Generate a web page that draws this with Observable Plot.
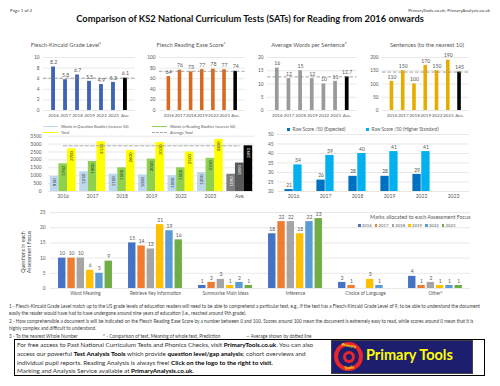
<!DOCTYPE html>
<html><head><meta charset="utf-8">
<script src="https://cdn.jsdelivr.net/npm/d3@7"></script>
<script src="https://cdn.jsdelivr.net/npm/@observablehq/plot@0.6"></script>
<style>
body{margin:0;width:500px;height:386px;position:relative;overflow:hidden;background:#fff;font-family:Lato,"Open Sans",sans-serif;}
.a{position:absolute;white-space:nowrap;}
.chart{position:absolute;left:0;}
.chart svg{overflow:visible;background:transparent;}
.ct{position:absolute;font-size:5.8px;color:#595959;transform:translateX(-50%);white-space:nowrap;}
.leg{position:absolute;white-space:nowrap;color:#595959;}
.sw{display:inline-block;vertical-align:middle;}
.fn{position:absolute;left:9px;font-size:4.7px;color:#404040;white-space:nowrap;}
.foot{position:absolute;left:17px;font-size:6.3px;color:#333;white-space:nowrap;}
.foot b{color:#000;}
</style></head><body>
<script>
// ---------- data ----------
const years = ["2016","2017","2018","2019","2022","2023"];
const cats7 = ["2016","2017","2018","2019","2022","2023","Ave."];
const fkGrade = [8.2,5.8,6.7,5.5,4.9,5.3,6.1];
const readingEase = [64,76,73,77,78,77,74];
const wordsPerSentence = [16,12,15,12,10,11,12.7];
const sentences = [110,150,100,170,150,190,145];

const questionWords = [950,1250,1100,1050,1000,1200,1092];
const readingWords = [1750,1900,1500,2050,1500,2100,1800];
const totalWords = [2700,3150,2600,3100,2500,3300,2892];
const averageTotal = 2892;

const rawExpected = [21,26,28,28,29,null];
const rawHigher = [34,39,40,41,41,null];

const focusCats = ["Word Meaning","Retrieve Key Information","Summarise Main Ideas","Inference","Choice of Language","Other*"];
const focus2016 = [10,15,1,18,2,4];
const focus2017 = [10,14,2,22,1,1];
const focus2018 = [10,13,3,22,null,2];
const focus2019 = [6,21,1,18,3,1];
const focus2022 = [5,19,2,22,1,1];
const focus2023 = [9,16,1,23,null,1];
const focusYears = ["2016","2017","2018","2019","2022","2023"];

// ---------- helpers ----------
const body = document.body;
function place(el, top){ const d=document.createElement("div"); d.className="chart"; d.style.top=top+"px"; d.appendChild(el); body.appendChild(d); }
function html(s){ body.insertAdjacentHTML("beforeend", s); }
const baseStyle = {fontFamily:"Lato, sans-serif", fontSize:"5px", color:"#595959", background:"transparent", overflow:"visible"};
const plain = d => String(d);

// ---------- header ----------
html(`<div class="a" style="left:10px;top:8px;font-size:4.5px;color:#404040">Page 1 of 2</div>`);
html(`<div class="a" style="right:10px;top:8px;font-size:4.5px;color:#404040">PrimaryTools.co.uk; PrimaryAnalysis.co.uk</div>`);
html(`<div class="a" style="left:250px;top:13px;transform:translateX(-50%);font-size:9.3px;font-weight:bold;color:#111">Comparison of KS2 National Curriculum Tests (SATs) for Reading from 2016 onwards</div>`);

// ---------- four small charts ----------
function small(values, color, domain, ticks, pl, pr, title, tx){
  const data = cats7.map((c,i)=>({c, v:values[i]}));
  const p = Plot.plot({
    width:500, height:82, marginLeft:pl, marginRight:500-pr, marginTop:19, marginBottom:10,
    style: baseStyle,
    x:{domain:cats7, padding:0.68, round:false, label:null},
    y:{domain, label:null},
    marks:[
      Plot.gridY(ticks, {stroke:"#d9d9d9", strokeOpacity:1, strokeWidth:0.6}),
      Plot.barY(data, {x:"c", y:"v", fill:d=>d.c==="Ave."?"#000000":color}),
      Plot.ruleY([values[6]], {stroke:"#8c8c8c", strokeDasharray:"3.5,2", strokeWidth:0.8}),
      Plot.text(data, {x:"c", y:"v", text:d=>String(d.v), dy:-4.5, fill:"#595959", fontSize:5.2}),
      Plot.axisY(ticks, {tickSize:0, tickPadding:4, label:null, fontSize:4.8, tickFormat:plain}),
      Plot.axisX({tickSize:0, tickPadding:3, label:null, fontSize:4.6})
    ]
  });
  place(p, 38);
  html(`<div class="ct" style="left:${tx}px;top:41px">${title}</div>`);
}
small(fkGrade, "#3e64b4", [0,10], [0,2,4,6,8,10], 43, 135, "Flesch-Kincaid Grade Level¹", 66);
small(readingEase, "#d8691f", [0,100], [0,20,40,60,80,100], 159, 244.5, "Flesch Reading Ease Score²", 191);
small(wordsPerSentence, "#9a9a9a", [0,20], [0,5,10,15,20], 267, 356.5, "Average Words per Sentence³", 309);
small(sentences, "#e6ad00", [0,200], [0,50,100,150,200], 382, 468.5, "Sentences (to the nearest 10)", 427);

// ---------- words chart ----------
{
  const pl = 48, pr = 254;
  const bw = (pr-pl)/cats7.length, bW = 8.6, g0 = (bw - 3*bW)/2;
  const series = [
    [questionWords, "#bdd7ee", "#7f7f7f"],
    [readingWords, "#8fd14f", "#595959"],
    [totalWords, "#ffff00", "#000000"]
  ];
  const marks = [Plot.gridY(d3.range(0,3501,500), {stroke:"#d9d9d9", strokeOpacity:1, strokeWidth:0.6})];
  series.forEach(([vals, col, aveCol], j)=>{
    const d = cats7.map((c,i)=>({c, v:vals[i]}));
    const il = g0 + j*bW, ir = bw - il - bW;
    marks.push(Plot.barY(d, {x:"c", y:"v", fill:r=>r.c==="Ave."?aveCol:col, insetLeft:il, insetRight:ir}));
    marks.push(Plot.text(d, {x:"c", y:"v", text:r=>String(r.v), rotate:-90, textAnchor:"end", dy:2, dx:il + bW/2 - bw/2, fill:r=>r.c==="Ave."?"#ffffff":"#262626", fontSize:4.4}));
  });
  marks.push(Plot.line(cats7.map(c=>({c, v:averageTotal})), {x:"c", y:"v", stroke:"#a6a6a6", strokeDasharray:"3.5,2", strokeWidth:0.9}));
  marks.push(Plot.axisY(d3.range(0,3501,500), {tickSize:0, tickPadding:7, label:null, fontSize:4.8, tickFormat:plain}));
  marks.push(Plot.axisX({tickSize:0, tickPadding:3, label:null, fontSize:5}));
  const p = Plot.plot({
    width:500, height:82, marginLeft:pl, marginRight:500-pr, marginTop:17.7, marginBottom:9,
    style: baseStyle,
    x:{domain:cats7, padding:0, round:false, label:null},
    y:{domain:[0,3500], label:null},
    marks
  });
  place(p, 118);
  html(`<div class="leg" style="left:43px;top:123.5px;font-size:3.9px"><span class="sw" style="width:15px;height:1.6px;background:#bdd7ee;margin-right:3px"></span>Words in Question Booklet (nearest 50)</div>`);
  html(`<div class="leg" style="left:152px;top:123.5px;font-size:3.9px"><span class="sw" style="width:15px;height:1.6px;background:#8fd14f;margin-right:3px"></span>Words in Reading Booklet (nearest 50)</div>`);
  html(`<div class="leg" style="left:43px;top:129.5px;font-size:3.9px"><span class="sw" style="width:15px;height:1.6px;background:#ffff00;margin-right:3px"></span>Total</div>`);
  html(`<div class="leg" style="left:152px;top:129.5px;font-size:3.9px"><span class="sw" style="width:15px;height:0;border-top:1px dashed #a6a6a6;margin-right:3px"></span>Average Total</div>`);
}

// ---------- raw score chart ----------
{
  const pl = 277, pr = 469;
  const bw = (pr-pl)/years.length, bW = 8.3;
  const series = [[rawExpected, "#0070c0", -1], [rawHigher, "#00b0f0", 0]];
  const marks = [Plot.gridY(d3.range(20,51,5), {stroke:"#d9d9d9", strokeOpacity:1, strokeWidth:0.6})];
  series.forEach(([vals, col, k])=>{
    const d = years.map((c,i)=>({c, v:vals[i]})).filter(r=>r.v!=null);
    const il = bw/2 + k*bW + (k===0?0.3:-0.3), ir = bw - il - bW;
    marks.push(Plot.barY(d, {x:"c", y1:20, y2:"v", fill:col, insetLeft:il, insetRight:ir}));
    marks.push(Plot.text(d, {x:"c", y:"v", text:r=>String(r.v), dy:-4.5, dx:il + bW/2 - bw/2, fill:"#595959", fontSize:5}));
  });
  marks.push(Plot.axisY(d3.range(20,51,5), {tickSize:0, tickPadding:4, label:null, fontSize:4.8, tickFormat:plain}));
  marks.push(Plot.axisX({tickSize:0, tickPadding:3, label:null, fontSize:5}));
  const p = Plot.plot({
    width:500, height:82, marginLeft:pl, marginRight:500-pr, marginTop:16, marginBottom:9,
    style: baseStyle,
    x:{domain:years, padding:0, round:false, label:null},
    y:{domain:[20,50], label:null},
    marks
  });
  place(p, 118);
  html(`<div class="leg" style="left:287px;top:126px;font-size:4.7px"><span class="sw" style="width:3px;height:3px;background:#0070c0;margin-right:2.5px"></span>Raw Score /50 (Expected)</div>`);
  html(`<div class="leg" style="left:366px;top:126px;font-size:4.7px"><span class="sw" style="width:3px;height:3px;background:#00b0f0;margin-right:2.5px"></span>Raw Score /50 (Higher Standard)</div>`);
}

// ---------- assessment focus chart ----------
{
  const pl = 50, pr = 470;
  const bw = (pr-pl)/focusCats.length, bW = 7.4, bS = 9.3, g0 = (bw - (5*bS + bW))/2;
  const cols = ["#4472c4","#ed7d31","#a5a5a5","#ffc000","#5b9bd5","#70ad47"];
  const series = [focus2016, focus2017, focus2018, focus2019, focus2022, focus2023];
  const ticks = [0,5,10,15,20,25];
  const marks = [Plot.gridY(ticks, {stroke:"#d9d9d9", strokeOpacity:1, strokeWidth:0.6})];
  series.forEach((vals, j)=>{
    const d = focusCats.map((c,i)=>({c, v:vals[i]})).filter(r=>r.v!=null);
    const il = g0 + j*bS, ir = bw - il - bW;
    marks.push(Plot.barY(d, {x:"c", y:"v", fill:cols[j], insetLeft:il, insetRight:ir}));
    marks.push(Plot.text(d, {x:"c", y:"v", text:r=>String(r.v), dy:-4.5, dx:il + bW/2 - bw/2, fill:"#595959", fontSize:5}));
  });
  marks.push(Plot.axisY(ticks, {tickSize:0, tickPadding:5, label:null, fontSize:4.8, tickFormat:plain}));
  marks.push(Plot.axisX({tickSize:0, tickPadding:3, label:null, fontSize:4.7}));
  const p = Plot.plot({
    width:500, height:95, marginLeft:pl, marginRight:500-pr, marginTop:7, marginBottom:12,
    style: baseStyle,
    x:{domain:focusCats, padding:0, round:false, label:null},
    y:{domain:[0,25], label:null},
    marks
  });
  place(p, 205);
  html(`<div class="a" style="left:26px;top:252px;transform:translate(-50%,-50%) rotate(-90deg);font-size:5.3px;color:#404040;text-align:center;line-height:6px">Questions in each<br>Assessment Focus</div>`);
  html(`<div class="leg" style="left:370px;top:213.5px;font-size:5.4px">Marks allocated to each Assessment Focus</div>`);
  const items = focusYears.map((y,j)=>`<span style="margin-right:3px"><span class="sw" style="width:2.6px;height:2.6px;background:${cols[j]};margin-right:1.2px"></span>${y}</span>`).join("");
  html(`<div class="leg" style="left:358px;top:222.5px;font-size:4.3px">${items}</div>`);
}

// ---------- footnotes ----------
html(`<div class="fn" style="top:302.5px">1 - Flesch-Kincaid Grade Level match up to the US grade levels of education readers will need to be able to comprehend a particular text, e.g., if the text has a Flesch-Kincaid Grade Level of 9, to be able to understand the document</div>`);
html(`<div class="fn" style="top:310px">easily the reader would have had to have undergone around nine years of education (i.e., reached around 9th grade).</div>`);
html(`<div class="fn" style="top:317.5px">2 - How comprehensible a document is will be indicated on the Flesch Reading Ease Score by a number between 0 and 100. Scores around 100 mean the document is extremely easy to read, while scores around 0 mean that it is</div>`);
html(`<div class="fn" style="top:325px">highly complex and difficult to understand.</div>`);
html(`<div class="fn" style="top:332.5px">3 - To the nearest Whole Number</div>`);
html(`<div class="fn" style="top:332.5px;left:103px">* - Comparison of text, Meaning of whole text, Prediction</div>`);
html(`<div class="fn" style="top:332.5px;left:246px">— Average shown by dotted line</div>`);

// ---------- footer ----------
html(`<div class="a" style="left:14px;top:339px;width:471px;height:37px;border:0.8px solid #000;box-sizing:border-box"></div>`);
html(`<div class="foot" style="top:341.2px">For free access to Past National Curriculum Tests and Phonics Checks, visit <b>PrimaryTools.co.uk</b>. You can also</div>`);
html(`<div class="foot" style="top:349.9px">access our powerful <b>Test Analysis Tools</b> which provide <b>question level/gap analysis</b>; cohort overviews and</div>`);
html(`<div class="foot" style="top:358.6px">individual pupil reports. Reading Analysis is always free! <b>Click on the logo to the right to visit.</b></div>`);
html(`<div class="foot" style="top:367.3px">Marking and Analysis Service available at <b>PrimaryAnalysis.co.uk.</b></div>`);
html(`<div class="a" style="left:331px;top:340px;width:142px;height:34px;background:#1e1e6e;border:0.6px solid #444;box-sizing:border-box"></div>`);
html(`<div class="a" style="left:334px;top:342px;width:29px;height:29px;border-radius:50%;background:#e8262b"></div>`);
html(`<div class="a" style="left:338px;top:346px;width:21px;height:21px;border-radius:50%;background:#1e1e6e"></div>`);
html(`<div class="a" style="left:342.5px;top:350.5px;width:12px;height:12px;border-radius:50%;background:#e8262b"></div>`);
html(`<div class="a" style="left:345.5px;top:353.5px;width:6px;height:6px;border-radius:50%;background:#1e1e6e"></div>`);
html(`<div class="a" style="left:348.5px;top:343px;transform:translateX(-50%) rotate(8deg);font-size:4.2px;font-weight:bold;color:#ffff00">Primary</div>`);
html(`<div class="a" style="left:348.5px;top:364.5px;transform:translateX(-50%) rotate(-8deg);font-size:4.2px;font-weight:bold;color:#ffff00">Tools</div>`);
html(`<div class="a" style="left:366px;top:346px;font-size:14.5px;font-weight:bold;color:#ffff00;line-height:18px">Primary Tools</div>`);
</script>
</body></html>
